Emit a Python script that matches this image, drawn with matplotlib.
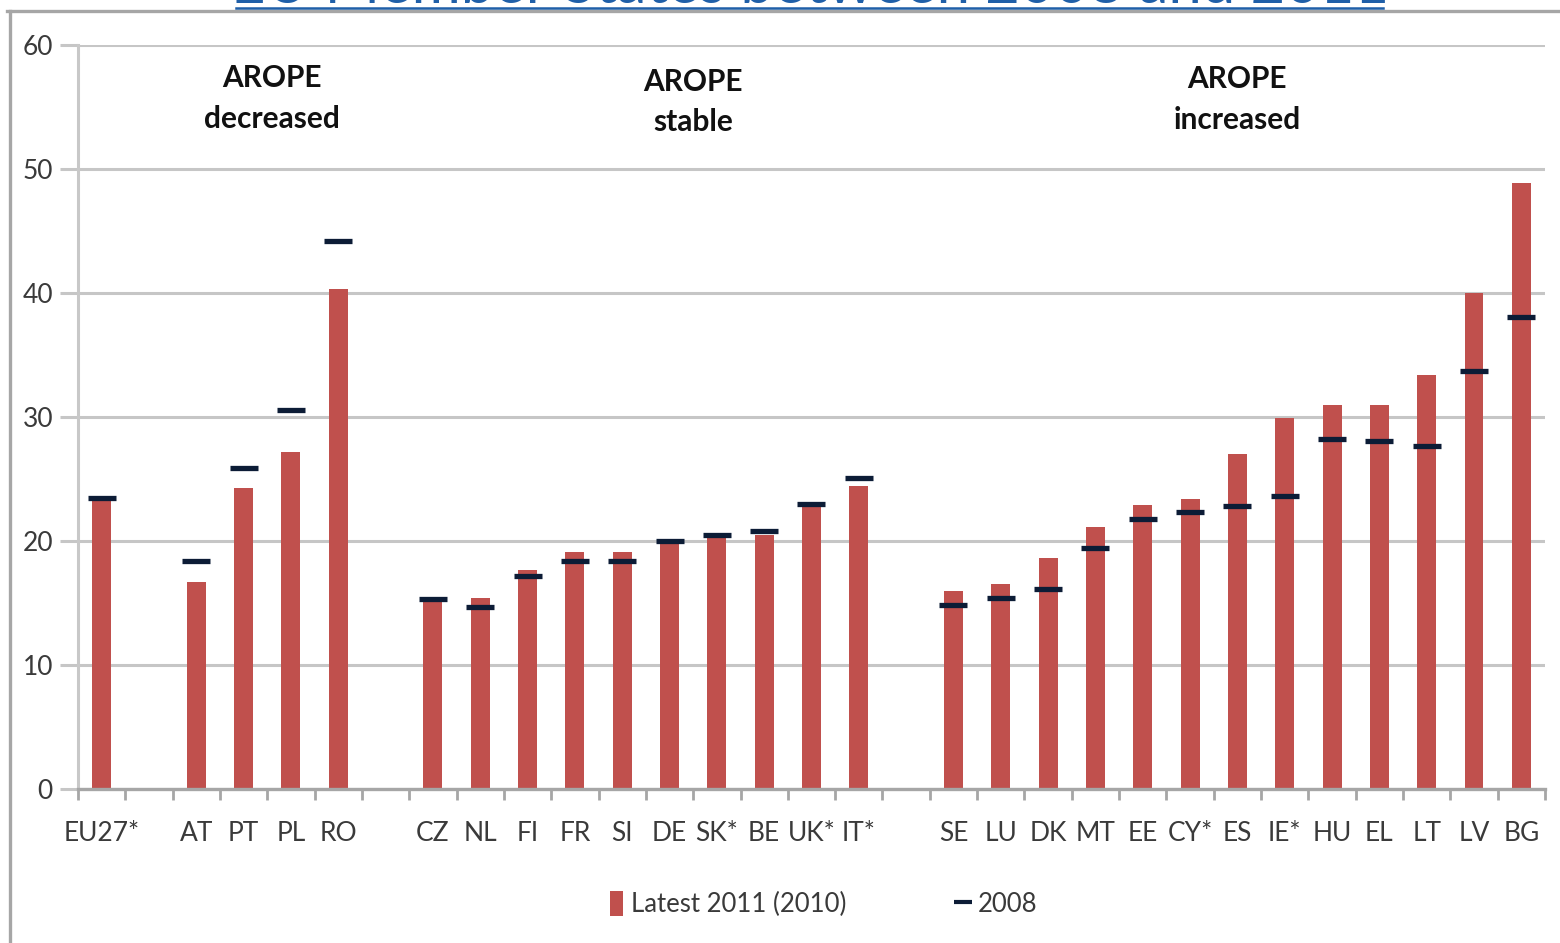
import numpy as np
import matplotlib
matplotlib.use("Agg")
import matplotlib.pyplot as plt
from matplotlib.lines import Line2D
from matplotlib.patches import Patch

plt.rcParams['font.family'] = ['Lato', 'DejaVu Sans']

# AROPE rates (%), latest year (2011, or 2010 where marked *) and 2008
eu_label = "EU27*"
eu_latest = 23.4
eu_2008 = 23.5

dec_labels = ["AT", "PT", "PL", "RO"]
dec_latest = [16.7, 24.3, 27.2, 40.3]
dec_2008 = [18.4, 25.9, 30.6, 44.2]

stb_labels = ["CZ", "NL", "FI", "FR", "SI", "DE", "SK*", "BE", "UK*", "IT*"]
stb_latest = [15.3, 15.4, 17.7, 19.1, 19.1, 19.9, 20.6, 20.5, 22.8, 24.4]
stb_2008 = [15.3, 14.7, 17.2, 18.4, 18.4, 20.0, 20.5, 20.8, 23.0, 25.1]

inc_labels = ["SE", "LU", "DK", "MT", "EE", "CY*", "ES", "IE*", "HU", "EL", "LT", "LV", "BG"]
inc_latest = [16.0, 16.5, 18.6, 21.1, 22.9, 23.4, 27.0, 29.9, 31.0, 31.0, 33.4, 40.0, 48.9]
inc_2008 = [14.8, 15.4, 16.1, 19.4, 21.8, 22.3, 22.8, 23.6, 28.2, 28.1, 27.7, 33.7, 38.1]

group_titles = ["AROPE\ndecreased", "AROPE\nstable", "AROPE\nincreased"]

# lay the groups out left to right with an empty slot between them
labels, latest, prev, pos = [], [], [], []
x = 0
for lab, cur, old in [([eu_label], [eu_latest], [eu_2008]),
                      (dec_labels, dec_latest, dec_2008),
                      (stb_labels, stb_latest, stb_2008),
                      (inc_labels, inc_latest, inc_2008)]:
    for l, c, o in zip(lab, cur, old):
        labels.append(l)
        latest.append(c)
        prev.append(o)
        pos.append(x)
        x += 1
    x += 1
n_slots = x - 1

bar_clr = "#C0504D"
dash_clr = "#0C1C36"
grid_clr = "#C6C6C6"
txt_clr = "#3A3A3A"

fig = plt.figure(figsize=(15.6, 9.43), dpi=100)
ax = fig.add_axes([78 / 1560, 1 - 789 / 943, (1545 - 78) / 1560, (789 - 45) / 943])

ax.bar(pos, latest, width=0.40, color=bar_clr, zorder=2)
ax.plot(pos, prev, linestyle="none", marker="_", markersize=20,
        markeredgewidth=3.8, color=dash_clr, zorder=3)

ax.set_xlim(-0.5, n_slots - 0.5)
ax.set_ylim(0, 60)
ax.set_yticks(np.arange(0, 61, 10))
ax.yaxis.grid(True, color=grid_clr, linewidth=2.2, zorder=0)
ax.set_axisbelow(True)

# tick marks between slots, labels under the bars
ax.set_xticks(np.arange(-0.5, n_slots, 1.0))
ax.set_xticklabels([])
ax.set_xticks(pos, minor=True)
ax.set_xticklabels(labels, minor=True)
ax.tick_params(axis="x", which="major", length=8, width=2, color="#A6A6A6")
ax.tick_params(axis="x", which="minor", length=0, pad=23, labelsize=19, labelcolor=txt_clr)
ax.tick_params(axis="y", length=13, width=2.2, color=grid_clr, pad=5,
               labelsize=19, labelcolor=txt_clr)

for side in ["top", "right"]:
    ax.spines[side].set_visible(False)
ax.spines["left"].set_color("#C8C8C8")
ax.spines["left"].set_linewidth(2.2)
ax.spines["bottom"].set_color("#A6A6A6")
ax.spines["bottom"].set_linewidth(2.4)

for gx, gy, txt in zip([3.6, 12.5, 24.0], [55.7, 55.4, 55.6], group_titles):
    ax.text(gx, gy, txt, ha="center", va="center", fontsize=21.5,
            fontweight="bold", color="#111111", linespacing=1.55)

handles = [Patch(facecolor=bar_clr, edgecolor="none"),
           Line2D([], [], linestyle="none", marker="_", markersize=13,
                  markeredgewidth=3, color=dash_clr)]
fig.legend(handles, ["Latest 2011 (2010)", "2008"], loc="center",
           bbox_to_anchor=(0.528, 1 - 904 / 943), ncol=2, frameon=False,
           fontsize=18.5, handlelength=0.5, handleheight=1.1, handletextpad=0.3,
           columnspacing=4.3, labelcolor=txt_clr)

# outer chart frame and the title sitting above it
fig.add_artist(Line2D([7 / 1560, 1], [1 - 11 / 943] * 2, color="#A6A6A6", linewidth=2.4))
fig.add_artist(Line2D([10 / 1560] * 2, [0, 1 - 11 / 943], color="#A6A6A6", linewidth=2.4))
fig.text(810 / 1560, 1 - 3 / 943, "EU Member States between 2008 and 2011",
         ha="center", va="baseline", fontsize=43, color="#1F5FA8")
fig.add_artist(Line2D([236 / 1560, 1383 / 1560], [1 - 8 / 943] * 2, color="#1F5FA8", linewidth=1.8))

fig.savefig("out.png", dpi=100)
